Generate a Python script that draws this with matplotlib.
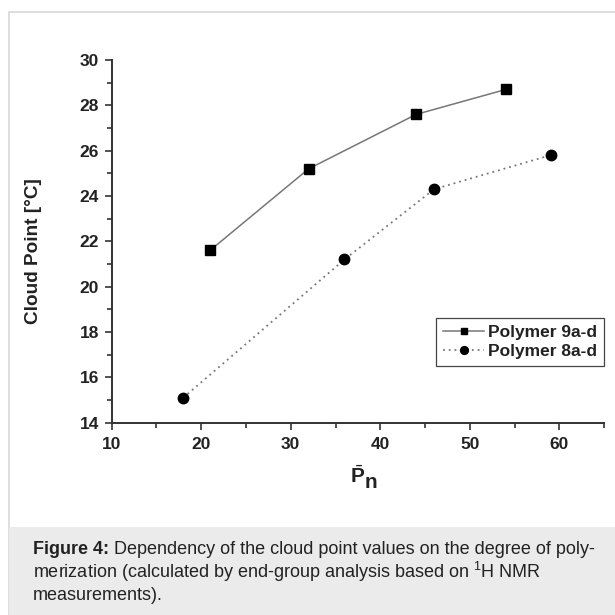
import matplotlib
matplotlib.use("Agg")
import matplotlib.pyplot as plt
from matplotlib.patches import Rectangle
from matplotlib.ticker import MultipleLocator

plt.rcParams["font.family"] = ["Liberation Sans", "DejaVu Sans"]
plt.rcParams["mathtext.fontset"] = "custom"
plt.rcParams["mathtext.rm"] = "Liberation Sans"
plt.rcParams["mathtext.bf"] = "Liberation Sans:bold"

# degree of polymerization vs cloud point
pn_9 = [21, 32, 44, 54]
cp_9 = [21.6, 25.2, 27.6, 28.7]
pn_8 = [18, 36, 46, 59]
cp_8 = [15.1, 21.2, 24.3, 25.8]
labels = ["Polymer 9a-d", "Polymer 8a-d"]

W, H = 615, 615
fig = plt.figure(figsize=(W / 100, H / 100), dpi=100)
fig.patch.set_facecolor("white")

# page frame and caption box
fig.add_artist(Rectangle((9 / W, 0), 1, 1 - 12 / H, transform=fig.transFigure,
                         facecolor="white", edgecolor="#d8d8d8", lw=1.2, zorder=-2))
fig.add_artist(Rectangle((9 / W, 0), 1, (H - 527) / H, transform=fig.transFigure,
                         facecolor="#ebebeb", edgecolor="none", zorder=-1))

ax_l, ax_r, ax_t, ax_b = 111.5, 604.3, 60.0, 422.7
ax_w, ax_h = ax_r - ax_l, ax_b - ax_t
ax = fig.add_axes([ax_l / W, (H - ax_b) / H, ax_w / W, ax_h / H])
ax.patch.set_alpha(0)
ax.plot(pn_9, cp_9, color="#777777", lw=1.1, ls="-", marker="s", ms=6.5,
        mfc="black", mec="black", label=labels[0])
ax.plot(pn_8, cp_8, color="#777777", lw=1.3, ls=(0, (1, 2.2)), marker="o", ms=7.5,
        mfc="black", mec="black", label=labels[1])

ax.set_xlim(10, 65)
ax.set_ylim(14, 30)
ax.xaxis.set_major_locator(MultipleLocator(10))
ax.xaxis.set_minor_locator(MultipleLocator(5))
ax.yaxis.set_major_locator(MultipleLocator(2))
ax.yaxis.set_minor_locator(MultipleLocator(1))
ax.set_xticks([10, 20, 30, 40, 50, 60])
for s in ["top", "right"]:
    ax.spines[s].set_visible(False)
for s in ["left", "bottom"]:
    ax.spines[s].set_color("#333333")
    ax.spines[s].set_linewidth(1.4)
ax.tick_params(which="major", direction="out", length=5, width=1.2, color="#333333",
               labelsize=12.5, pad=4)
ax.tick_params(which="minor", direction="out", length=3.5, width=1.2, color="#333333")
ax.tick_params(axis="x", which="major", pad=5)
for t in ax.get_xticklabels() + ax.get_yticklabels():
    t.set_fontweight("bold")
    t.set_color("#222222")

ax.set_ylabel("Cloud Point [°C]", fontsize=13.7, fontweight="bold", color="#222222")
ax.yaxis.set_label_coords((42 - ax_l) / ax_w, (ax_b - 251.5) / ax_h)

# x label: barred P with a full-size lowered n
ax.text((357.5 - ax_l) / ax_w, (ax_b - 476) / ax_h, r"$\bar{\mathbf{P}}$",
        transform=ax.transAxes, fontsize=15, color="#222222",
        ha="center", va="center")
ax.text((371 - ax_l) / ax_w, (ax_b - 483) / ax_h, "n", transform=ax.transAxes,
        fontsize=15, fontweight="bold", color="#222222", ha="center", va="center")

leg = ax.legend(loc="upper right", bbox_to_anchor=(1.0, (ax_b - 318) / ax_h),
                fancybox=False, edgecolor="#444444", framealpha=1,
                handlelength=2.35, handletextpad=0.25, borderpad=0.4,
                labelspacing=0.2, borderaxespad=0, markerscale=0.75,
                prop={"weight": "bold", "size": 12.5})
leg.get_frame().set_linewidth(0.9)
for t in leg.get_texts():
    t.set_color("#222222")

# caption with bold lead-in
fig.canvas.draw()
r = fig.canvas.get_renderer()
fs = 13
cx, cy = 33 / W, 1 - 549 / H
lead = fig.text(cx, cy, "Figure 4:", fontsize=fs, fontweight="bold",
                color="#222222", va="center")
bb = lead.get_window_extent(r)
fig.text(bb.x1 / W, cy, " Dependency of the cloud point values on the degree of poly-",
         fontsize=fs, color="#222222", va="center")
fig.text(cx, 1 - 572 / H,
         r"merization (calculated by end-group analysis based on $^{1}$H NMR",
         fontsize=fs, color="#222222", va="center")
fig.text(cx, 1 - 595 / H, "measurements).", fontsize=fs, color="#222222", va="center")

fig.savefig("out.png", dpi=100)
